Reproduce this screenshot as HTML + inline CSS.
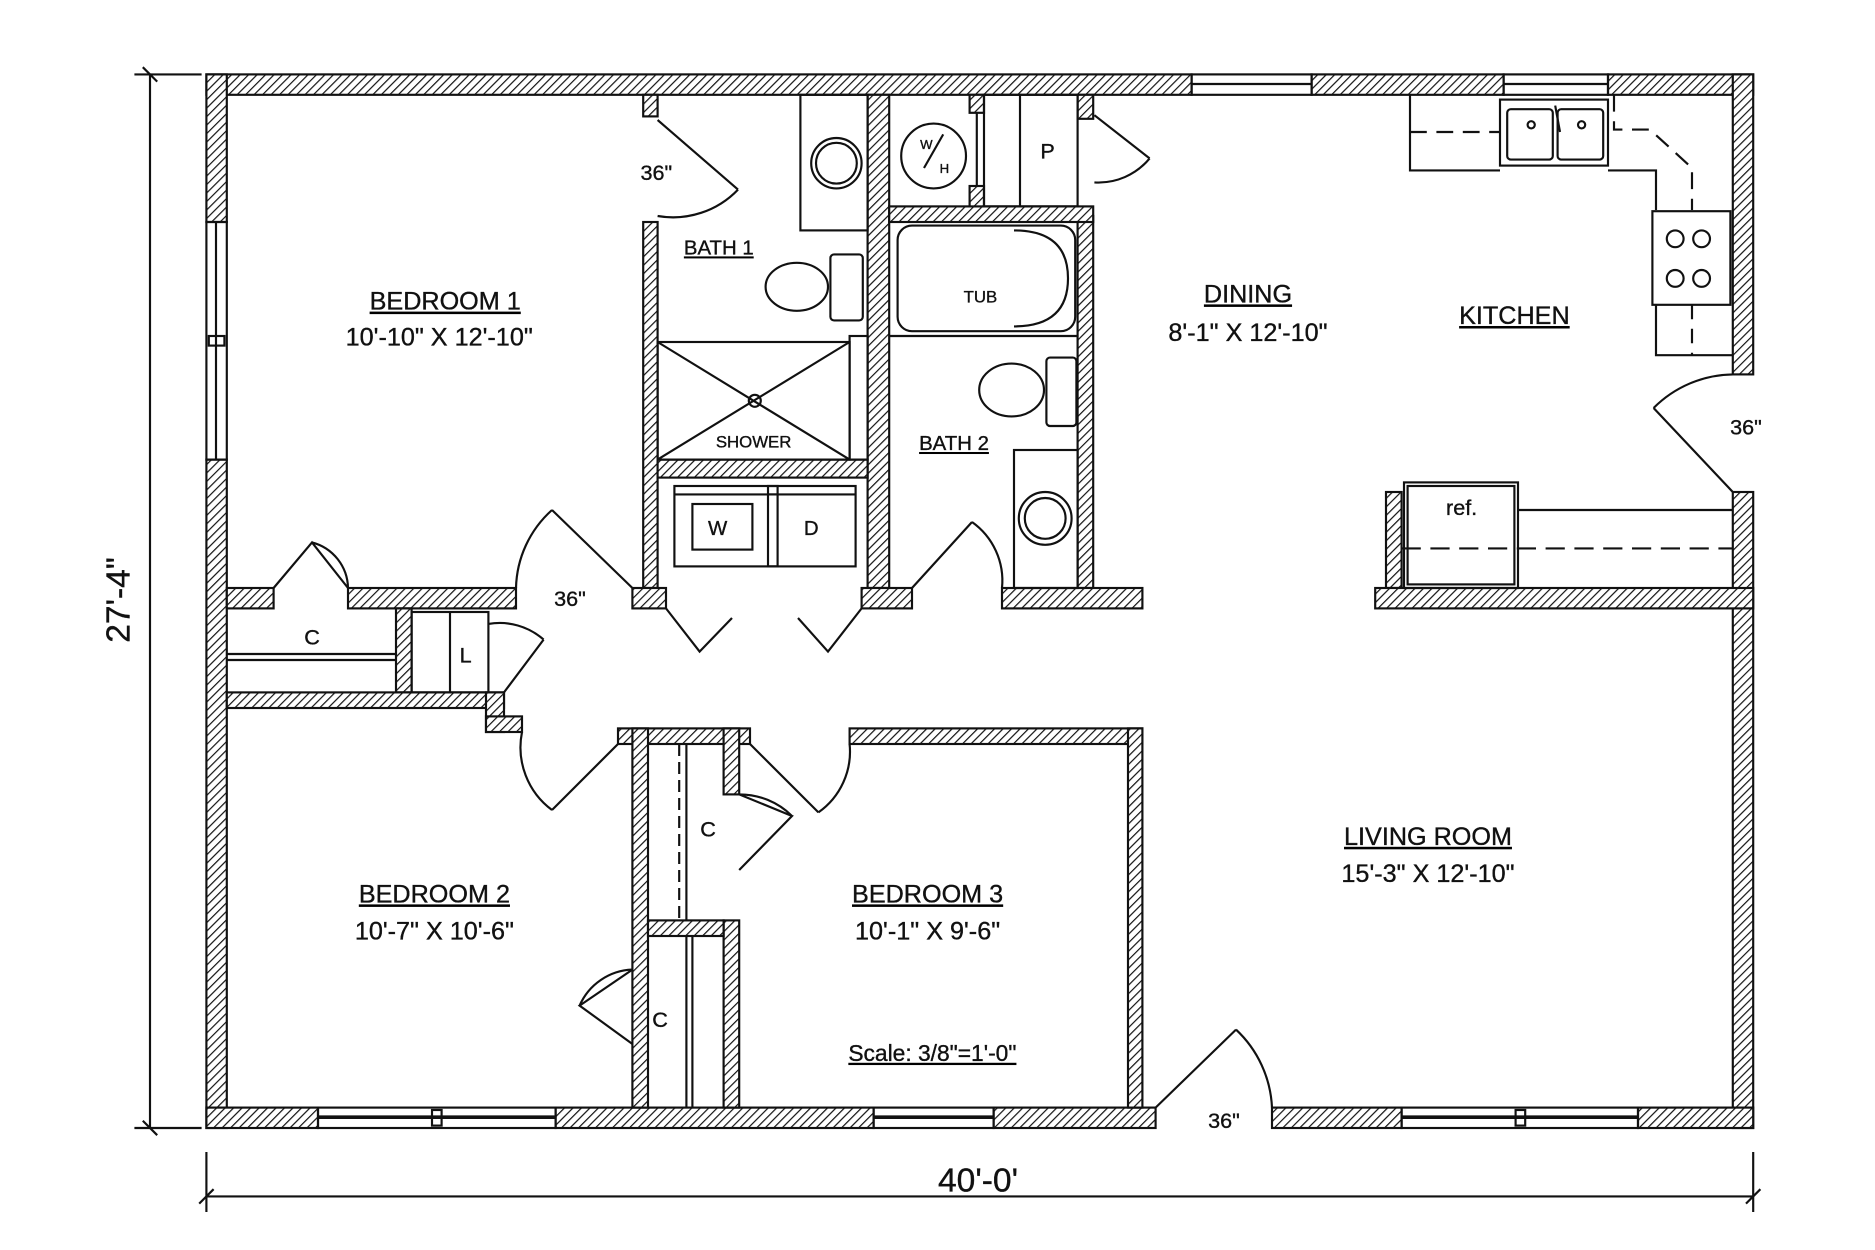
<!DOCTYPE html>
<html><head><meta charset="utf-8"><style>
html,body{margin:0;padding:0;background:#fff}
svg{display:block}
text{font-family:"Liberation Sans",sans-serif;fill:#111;stroke:#111;stroke-width:0.3}
</style></head><body>
<svg width="1875" height="1250" viewBox="0 0 1562.5 1041.67" xmlns="http://www.w3.org/2000/svg">
<defs>
<pattern id="h" patternUnits="userSpaceOnUse" width="5" height="5" patternTransform="rotate(45)">
<rect width="5" height="5" fill="#fff"/><line x1="0" y1="0" x2="0" y2="5" stroke="#111" stroke-width="2"/>
</pattern>
</defs>
<g fill="url(#h)" stroke="#111" stroke-width="1.8">
<rect x="172" y="62" width="821" height="17"/>
<rect x="1093" y="62" width="160" height="17"/>
<rect x="1340" y="62" width="121" height="17"/>
<rect x="172" y="62" width="17" height="123"/>
<rect x="172" y="383" width="17" height="557"/>
<rect x="1444" y="62" width="17" height="250"/>
<rect x="1444" y="410" width="17" height="530"/>
<rect x="172" y="923" width="93" height="17"/>
<rect x="463" y="923" width="265" height="17"/>
<rect x="828" y="923" width="135" height="17"/>
<rect x="1060" y="923" width="108" height="17"/>
<rect x="1365" y="923" width="96" height="17"/>
<rect x="189" y="490" width="39" height="17"/>
<rect x="290" y="490" width="140" height="17"/>
<rect x="330" y="507" width="13" height="70"/>
<rect x="189" y="577" width="231" height="13"/>
<rect x="405" y="577" width="15" height="33"/>
<rect x="405" y="597" width="30" height="13"/>
<rect x="515" y="607" width="110" height="13"/>
<rect x="708" y="607" width="244" height="13"/>
<rect x="940" y="607" width="12" height="316"/>
<rect x="527" y="607" width="13" height="316"/>
<rect x="603" y="607" width="13" height="55"/>
<rect x="603" y="767" width="13" height="156"/>
<rect x="540" y="767" width="63" height="13"/>
<rect x="536" y="79" width="12" height="18"/>
<rect x="536" y="185" width="12" height="305"/>
<rect x="723" y="79" width="18" height="411"/>
<rect x="898" y="180" width="13" height="310"/>
<rect x="741" y="172" width="170" height="13"/>
<rect x="808" y="79" width="12" height="15"/>
<rect x="808" y="155" width="12" height="17"/>
<rect x="898" y="79" width="13" height="20"/>
<rect x="548" y="383" width="175" height="15"/>
<rect x="527" y="490" width="28" height="17"/>
<rect x="718" y="490" width="42" height="17"/>
<rect x="835" y="490" width="117" height="17"/>
<rect x="1155" y="410" width="13" height="80"/>
<rect x="1146" y="490" width="315" height="17"/>
</g>
<g fill="none" stroke="#111" stroke-width="1.8">
<rect x="172" y="185" width="17" height="198"/><line x1="180" y1="185" x2="180" y2="383"/><rect x="174" y="280" width="13" height="8"/>
<rect x="993" y="62" width="100" height="17"/><line x1="993" y1="70" x2="1093" y2="70"/>
<rect x="1253" y="62" width="87" height="17"/><line x1="1253" y1="70" x2="1340" y2="70"/>
<rect x="265" y="923" width="198" height="17"/><line x1="265" y1="931" x2="463" y2="931" stroke-width="3"/><rect x="360" y="925" width="8" height="13"/>
<rect x="728" y="923" width="100" height="17"/><line x1="728" y1="931" x2="828" y2="931" stroke-width="3"/>
<rect x="1168" y="923" width="197" height="17"/><line x1="1168" y1="931" x2="1365" y2="931" stroke-width="3"/><rect x="1263" y="925" width="8" height="13"/>
<path d="M548,100 L615,158 M615,158 A75,75 0 0 1 548,180"/>
<path d="M912,96 L958,132 M958,132 A55,55 0 0 1 912,152"/>
<path d="M228,490 L260,452 L290,490 M260,452 A40,40 0 0 1 290,490"/>
<path d="M420,577 L453,533 M407,520 A55,55 0 0 1 453,533"/>
<path d="M527,490 L460,425 M460,425 A90,90 0 0 0 430,490"/>
<path d="M555,507 L583,543 L610,515 M665,515 L690,543 L718,507"/>
<path d="M760,490 L810,435 M810,435 A60,60 0 0 1 835,490"/>
<path d="M515,620 L460,675 M460,675 A65,65 0 0 1 435,610"/>
<path d="M625,620 L682,677 M682,677 A62,62 0 0 0 708,620"/>
<path d="M616,662 L660,680 L616,725 M616,662 A62,62 0 0 1 660,680"/>
<path d="M527,870 L483,838 L527,808 M483,838 A50,50 0 0 1 527,808"/>
<path d="M963,923 L1030,858 M1030,858 A95,95 0 0 1 1060,923"/>
<path d="M1444,410 L1378,340 M1378,340 A95,95 0 0 1 1444,312"/>
<line x1="189" y1="545" x2="330" y2="545"/><line x1="189" y1="550" x2="330" y2="550"/>
<rect x="343" y="510" width="64" height="67"/><line x1="375" y1="510" x2="375" y2="577"/>
<line x1="566" y1="620" x2="566" y2="767" stroke-dasharray="10,5"/><line x1="572" y1="620" x2="572" y2="767"/>
<line x1="572" y1="780" x2="572" y2="923"/><line x1="577" y1="780" x2="577" y2="923"/>
<rect x="667" y="79" width="56" height="113"/>
<circle cx="697" cy="136" r="21"/><circle cx="697" cy="136" r="17"/>
<ellipse cx="664" cy="239" rx="26" ry="20"/><rect x="692" y="212" width="27" height="55" rx="3"/>
<rect x="548" y="285" width="160" height="98"/><path d="M548,285 L708,383 M708,285 L548,383"/><circle cx="629" cy="334" r="5"/>
<rect x="708" y="280" width="15" height="103"/>
<rect x="562" y="405" width="86" height="67"/><rect x="577" y="420" width="50" height="38"/>
<rect x="640" y="405" width="73" height="67"/><line x1="562" y1="412" x2="648" y2="412"/><line x1="640" y1="412" x2="713" y2="412"/>
<circle cx="778" cy="130" r="27"/><line x1="770" y1="140" x2="786" y2="112"/>
<line x1="814" y1="94" x2="814" y2="155"/>
<rect x="820" y="79" width="78" height="93"/><line x1="850" y1="79" x2="850" y2="172"/>
<rect x="748" y="188" width="148" height="88" rx="12"/>
<path d="M845,192 Q890,192 890,232 Q890,272 845,272"/>
<line x1="741" y1="280" x2="898" y2="280"/>
<ellipse cx="843" cy="325" rx="27" ry="22"/><rect x="872" y="298" width="25" height="57" rx="3"/>
<rect x="845" y="375" width="53" height="115"/>
<circle cx="871" cy="432" r="22"/><circle cx="871" cy="432" r="17"/>
<path d="M1175,79 L1175,142 L1250,142 M1340,142 L1380,142 L1380,175" />
<path d="M1175,110 L1250,110 M1345,79 L1345,108 L1375,108 L1410,140 L1410,175" stroke-dasharray="14,8"/>
<rect x="1250" y="83" width="90" height="55"/><rect x="1256" y="91" width="38" height="42" rx="3"/><rect x="1298" y="91" width="38" height="42" rx="3"/>
<circle cx="1276" cy="104" r="3"/><circle cx="1318" cy="104" r="3"/><line x1="1296" y1="88" x2="1300" y2="110"/>
<rect x="1377" y="176" width="65" height="78"/>
<circle cx="1396" cy="199" r="7"/><circle cx="1418" cy="199" r="7"/><circle cx="1396" cy="232" r="7"/><circle cx="1418" cy="232" r="7"/>
<path d="M1380,254 L1380,296 L1444,296"/><line x1="1410" y1="254" x2="1410" y2="296" stroke-dasharray="12,8"/>
<rect x="1170" y="402" width="95" height="88"/><rect x="1173" y="405" width="89" height="82"/>
<path d="M1265,425 L1444,425"/><line x1="1168" y1="457" x2="1444" y2="457" stroke-dasharray="16,8"/>
<line x1="125" y1="62" x2="125" y2="940"/><line x1="112" y1="940" x2="168" y2="940"/><line x1="112" y1="62" x2="168" y2="62"/>
<line x1="119" y1="934" x2="131" y2="946"/><line x1="119" y1="56" x2="131" y2="68"/>
<line x1="172" y1="960" x2="172" y2="1010"/><line x1="1461" y1="960" x2="1461" y2="1010"/>
<line x1="172" y1="997" x2="1461" y2="997"/><line x1="166" y1="1003" x2="178" y2="991"/><line x1="1455" y1="1003" x2="1467" y2="991"/>
</g>
<g font-size="21" text-anchor="middle" text-decoration="underline">
<text x="371" y="258">BEDROOM 1</text>
<text x="362" y="752">BEDROOM 2</text>
<text x="773" y="752">BEDROOM 3</text>
<text x="1040" y="252">DINING</text>
<text x="1262" y="270">KITCHEN</text>
<text x="1190" y="704">LIVING ROOM</text>
<text x="599" y="212" font-size="17">BATH 1</text>
<text x="795" y="375" font-size="17">BATH 2</text>
<text x="777" y="884" font-size="19">Scale: 3/8"=1'-0"</text>
</g>
<g font-size="21" text-anchor="middle">
<text x="366" y="288">10'-10" X 12'-10"</text>
<text x="362" y="783">10'-7" X 10'-6"</text>
<text x="773" y="783">10'-1" X 9'-6"</text>
<text x="1040" y="284">8'-1" X 12'-10"</text>
<text x="1190" y="735">15'-3" X 12'-10"</text>
<text x="547" y="150" font-size="18">36"</text>
<text x="475" y="505" font-size="18">36"</text>
<text x="1020" y="940" font-size="18">36"</text>
<text x="1455" y="362" font-size="18">36"</text>
<text x="260" y="537" font-size="18">C</text>
<text x="388" y="552" font-size="18">L</text>
<text x="590" y="697" font-size="18">C</text>
<text x="550" y="856" font-size="18">C</text>
<text x="873" y="132" font-size="18">P</text>
<text x="817" y="252" font-size="14">TUB</text>
<text x="628" y="373" font-size="14">SHOWER</text>
<text x="598" y="446" font-size="17">W</text>
<text x="676" y="446" font-size="17">D</text>
<text x="772" y="124" font-size="11">W</text>
<text x="787" y="144" font-size="11">H</text>
<text x="1218" y="429" font-size="18">ref.</text>
<text x="815" y="993" font-size="28">40'-0'</text>
<text x="108" y="500" font-size="28" transform="rotate(-90 108 500)">27'-4"</text>
</g>
</svg>
</body></html>
